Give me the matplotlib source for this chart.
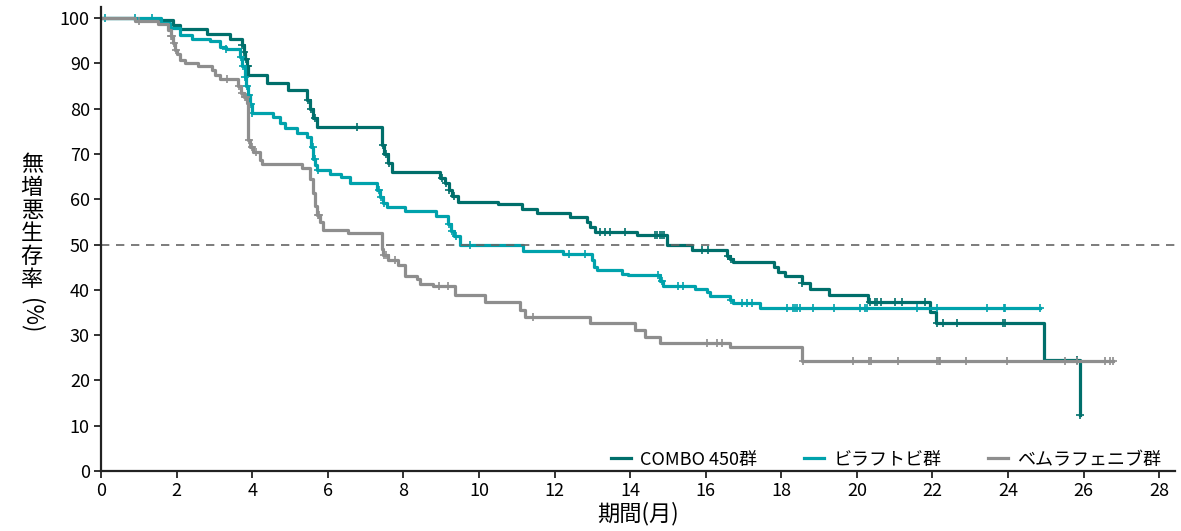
import numpy as np
import matplotlib
matplotlib.use("Agg")
import matplotlib.pyplot as plt

plt.rcParams['font.family'] = ['Noto Sans CJK JP', 'DejaVu Sans']

# --- dados (meses, % sem progressão) ---
combo_t = [0, 0.9, 1.91, 2.09, 2.8, 3.41, 3.72, 3.78, 3.82, 3.86, 3.9, 4.38, 4.96,
           5.44, 5.52, 5.6, 5.71, 7.44, 7.5, 7.6, 7.69, 8.97, 9.1, 9.2, 9.3, 9.45,
           10.5, 11.13, 11.53, 12.41, 12.85, 12.95, 13.07, 14.17, 14.97, 15.63,
           16.56, 16.65, 16.72, 17.8, 17.92, 18.1, 18.54, 18.76, 19.25, 20.3,
           21.94, 22.1, 24.95, 25.9]
combo_s = [100, 99.5, 98.5, 97.6, 96.6, 95.5, 94.0, 92.5, 91.0, 89.5, 87.4, 85.6, 84.1,
           82.0, 80.0, 78.0, 76.0, 72.0, 70.0, 68.0, 66.0, 64.8, 63.5, 62.0, 60.8, 59.5,
           58.9, 57.8, 57.0, 56.1, 55.0, 53.8, 52.8, 52.2, 49.9, 48.9,
           47.5, 46.8, 46.1, 45.1, 44.0, 43.1, 41.6, 40.2, 38.9, 37.4,
           35.2, 32.6, 24.5, 12.4]
combo_cens = [1.92, 3.74, 3.79, 3.83, 3.87, 3.89, 5.48, 5.55, 5.65, 6.77, 7.47, 7.55,
              7.63, 9.02, 9.12, 9.22, 9.35, 13.2, 13.34, 13.47, 13.87, 14.66, 14.72,
              14.78, 14.84, 14.9, 15.9, 16.05, 16.6, 16.68, 18.56, 20.35, 20.48, 20.54,
              20.63, 21.01, 21.19, 21.8, 22.11, 22.29, 22.64, 23.86, 23.92, 25.82, 25.91]

braf_t = [0, 1.6, 1.83, 2.09, 2.4, 2.88, 3.15, 3.3, 3.68, 3.74, 3.8, 3.85, 3.9, 3.94,
          3.99, 4.56, 4.74, 4.87, 5.18, 5.44, 5.55, 5.62, 5.67, 5.72, 6.06, 6.35, 6.6,
          7.3, 7.38, 7.46, 7.56, 8.05, 8.86, 9.19, 9.27, 9.35, 9.5, 11.17, 12.23,
          12.98, 13.05, 13.12, 13.78, 13.95, 14.79, 14.87, 15.72, 16.03, 16.11,
          16.64, 16.73, 17.44, 24.85]
braf_s = [100, 99.0, 97.9, 96.2, 95.5, 94.9, 93.7, 93.3, 91.5, 89.5, 87.0, 85.0, 83.0, 81.0,
          79.0, 78.1, 76.8, 75.7, 74.7, 73.8, 71.5, 69.0, 67.5, 66.4, 65.7, 64.9, 63.5,
          62.0, 60.5, 59.2, 58.2, 57.4, 56.4, 54.5, 53.0, 51.8, 50.0, 48.6, 48.0,
          46.5, 45.0, 44.4, 43.6, 43.2, 42.0, 40.9, 40.3, 39.6, 38.7,
          37.8, 37.0, 35.9, 35.9]
braf_cens = [0.1, 0.9, 1.34, 3.3, 3.7, 3.76, 3.82, 3.87, 3.92, 3.96, 4.0, 5.6, 5.65,
             5.75, 7.35, 7.42, 7.5, 9.22, 9.3, 9.4, 9.76, 12.38, 12.8, 14.75, 14.84,
             15.28, 15.41, 16.68, 16.95, 17.09, 17.22, 18.14, 18.32, 18.37, 18.42, 18.5,
             18.85, 19.4, 20.08, 20.22, 20.27, 21.58, 22.11, 23.44, 23.88, 23.91, 24.85]

bem_t = [0, 0.9, 1.5, 1.78, 1.84, 1.9, 1.96, 2.02, 2.09, 2.22, 2.57, 2.93, 3.02, 3.15,
         3.63, 3.7, 3.78, 3.86, 3.9, 3.95, 4.03, 4.2, 4.25, 5.31, 5.53, 5.6, 5.65, 5.72,
         5.8, 5.88, 6.54, 7.43, 7.47, 7.6, 7.87, 8.04, 8.35, 8.44, 8.79, 9.37, 10.16,
         11.09, 11.22, 12.94, 14.13, 14.4, 14.8, 16.65, 18.55, 26.78]
bem_s = [100, 99.4, 98.8, 97.4, 96.0, 94.5, 93.0, 92.0, 90.7, 90.0, 89.5, 88.5, 87.5, 86.5,
         85.0, 83.5, 82.5, 81.2, 73.0, 71.5, 70.5, 68.7, 67.8, 67.0, 64.5, 61.5, 58.5, 56.5,
         55.0, 53.2, 52.5, 49.0, 47.7, 46.6, 45.5, 43.0, 42.3, 41.3, 40.8, 38.9, 37.4,
         35.5, 34.1, 32.6, 31.2, 29.7, 28.3, 27.3, 24.2, 24.2]
bem_cens = [1.0, 1.85, 1.88, 1.93, 1.98, 3.33, 3.66, 3.72, 3.8, 3.84, 3.92, 4.0, 4.1,
            5.75, 5.77, 7.5, 7.55, 7.78, 8.95, 9.19, 11.44, 16.03, 16.29, 16.42, 18.57,
            19.91, 20.33, 20.37, 21.1, 22.11, 22.16, 22.2, 22.9, 23.97, 25.51, 25.82,
            26.57, 26.7, 26.78]

grupos = ['COMBO 450群', 'ビラフトビ群', 'ベムラフェニブ群']
cores = ['#006f6b', '#00a2ac', '#8e8e8e']

fig = plt.figure(figsize=(11.81, 5.31), dpi=100)
ax = fig.add_axes([0.0855, 0.113, 0.9095, 0.874])

curvas = [(combo_t, combo_s, combo_cens), (braf_t, braf_s, braf_cens), (bem_t, bem_s, bem_cens)]
for (t, s, c), nome, cor in zip(curvas, grupos, cores):
    ax.step(t, s, where='post', color=cor, lw=2.3, label=nome)
    # marcas de censura em cima da curva
    idx = np.searchsorted(t, c, side='right') - 1
    ax.plot(c, np.array(s)[idx], ls='none', marker='+', ms=6, mew=1.2, color=cor)

ax.axhline(50, color='#666666', lw=1.2, ls=(0, (5, 4)))

ax.set_xlim(0, 28.42)
ax.set_ylim(0, 102.5)
ax.set_xticks(range(0, 29, 2))
ax.set_yticks(range(0, 101, 10))
ax.tick_params(labelsize=13, length=5, width=1.3, color='#222222', pad=3)
for lado in ['top', 'right']:
    ax.spines[lado].set_visible(False)
for lado in ['left', 'bottom']:
    ax.spines[lado].set_linewidth(1.6)
    ax.spines[lado].set_color('#222222')

ax.set_xlabel('期間(月)', fontsize=16, labelpad=1)
fig.text(0.027, 0.582, '\n'.join('無増悪生存率'), fontsize=16, ha='center', va='center',
         linespacing=1.0)
fig.text(0.027, 0.405, '(%)', fontsize=16, ha='center', va='center', rotation=-90)

ax.legend(loc='lower right', bbox_to_anchor=(1.002, -0.03), ncol=3, frameon=False,
          fontsize=13, handlelength=1.1, columnspacing=2.6, handletextpad=0.5)

fig.savefig('out.png', dpi=100)
